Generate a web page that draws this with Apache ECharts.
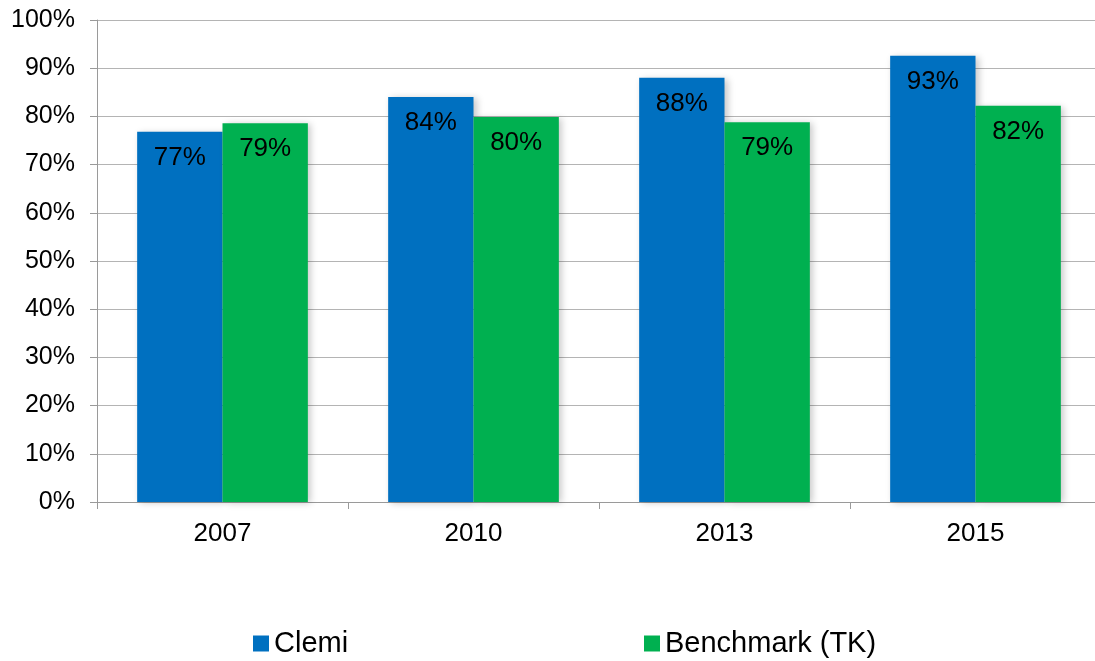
<!DOCTYPE html>
<html><head><meta charset="utf-8">
<script src="https://cdn.jsdelivr.net/npm/echarts@6/dist/echarts.min.js"></script>
<style>html,body{margin:0;padding:0;background:#fff;overflow:hidden}#c{width:1101px;height:661px}</style>
</head><body><div id="c"></div>
<script>
const categories = ['2007', '2010', '2013', '2015'];
const clemi = [76.8, 84.0, 88.0, 92.6];
const benchmark = [78.6, 79.9, 78.8, 82.2];
const seriesNames = ['Clemi', 'Benchmark (TK)'];
const yTicks = [0, 10, 20, 30, 40, 50, 60, 70, 80, 90, 100];

const chart = echarts.init(document.getElementById('c'));
const font = 'Liberation Sans, Arial, sans-serif';
const lbl = {
  show: true, position: 'insideTop', distance: 13,
  fontFamily: font, fontSize: 26, color: '#000',
  formatter: p => Math.round(p.value) + '%'
};
const legendText = { fontFamily: font, fontSize: 29, color: '#000' };
const shadow = { shadowColor: 'rgba(0,0,0,0.22)', shadowBlur: 7, shadowOffsetX: 3, shadowOffsetY: 1 };
chart.setOption({
  animation: false,
  grid: { left: 97, top: 20, width: 1004, height: 482 },
  legend: [
    { data: [seriesNames[0]], left: 248, top: 624, itemWidth: 16, itemHeight: 16, icon: 'rect',
      textStyle: legendText, itemGap: 6 },
    { data: [seriesNames[1]], left: 639, top: 624, itemWidth: 16, itemHeight: 16, icon: 'rect',
      textStyle: legendText, itemGap: 6 }
  ],
  xAxis: {
    type: 'category', data: categories,
    axisLine: { lineStyle: { color: '#9a9a9a', width: 1 } },
    axisTick: { show: true, length: 7, lineStyle: { color: '#9a9a9a' } },
    axisLabel: { fontFamily: font, fontSize: 26, color: '#000', margin: 19 }
  },
  yAxis: {
    type: 'value', min: 0, max: 100, interval: 10,
    axisLine: { show: true, lineStyle: { color: '#9a9a9a' } },
    axisTick: { show: true, length: 7, lineStyle: { color: '#9a9a9a' } },
    splitLine: { lineStyle: { color: '#b4b4b4', width: 1 } },
    axisLabel: { fontFamily: font, fontSize: 25, color: '#000', margin: 22,
      formatter: v => yTicks.includes(v) ? v + '%' : '' }
  },
  series: [
    { name: seriesNames[0], type: 'bar', data: clemi, barGap: '0%', barCategoryGap: '32%',
      itemStyle: Object.assign({ color: '#0070C0' }, shadow), label: lbl },
    { name: seriesNames[1], type: 'bar', data: benchmark, barGap: '0%', barCategoryGap: '32%',
      itemStyle: Object.assign({ color: '#00B050' }, shadow), label: lbl }
  ]
});
</script></body></html>
